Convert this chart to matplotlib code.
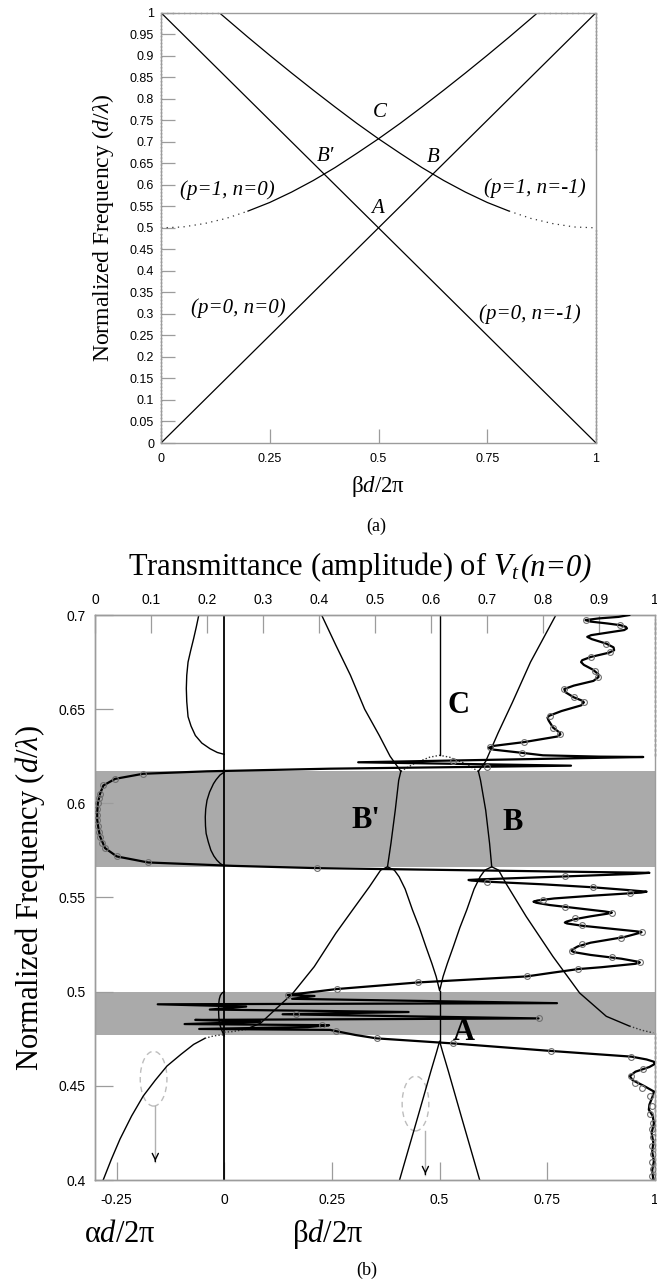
import matplotlib
matplotlib.use("Agg")
import matplotlib.pyplot as plt
from matplotlib.patches import Ellipse

SERIF = ["Liberation Serif", "DejaVu Serif"]
SANS = ["Liberation Sans", "DejaVu Sans"]
plt.rcParams["font.family"] = SANS
plt.rcParams["mathtext.fontset"] = "custom"
plt.rcParams["mathtext.rm"] = "Liberation Serif"
plt.rcParams["mathtext.it"] = "Liberation Serif:italic"
plt.rcParams["mathtext.bf"] = "Liberation Serif:bold"

# ---------------------------------------------------------------- panel (a) data
a_xtick_labels = ["0", "0.25", "0.5", "0.75", "1"]
a_ytick_labels = ["0", "0.05", "0.1", "0.15", "0.2", "0.25", "0.3", "0.35", "0.4",
                  "0.45", "0.5", "0.55", "0.6", "0.65", "0.7", "0.75", "0.8",
                  "0.85", "0.9", "0.95", "1"]

# light-line branches (p=0)
beta_p0 = [0.0, 1.0]
freq_p0_n0 = [0.0, 1.0]
freq_p0_nm1 = [1.0, 0.0]

# first higher-order branches (p=1)
beta_p1_n0 = [0.0, 0.05, 0.10, 0.15, 0.20, 0.25, 0.30, 0.35, 0.40, 0.45, 0.50,
              0.55, 0.60, 0.65, 0.70, 0.75, 0.80, 0.866]
freq_p1_n0 = [0.500, 0.502, 0.510, 0.522, 0.539, 0.559, 0.583, 0.610, 0.640, 0.673,
              0.707, 0.743, 0.781, 0.820, 0.860, 0.901, 0.943, 1.000]
beta_p1_nm1 = [0.134, 0.20, 0.25, 0.30, 0.35, 0.40, 0.45, 0.50, 0.55, 0.60, 0.65,
               0.70, 0.75, 0.80, 0.85, 0.90, 0.95, 1.00]
freq_p1_nm1 = [1.000, 0.943, 0.901, 0.860, 0.820, 0.781, 0.743, 0.707, 0.673, 0.640,
               0.610, 0.583, 0.559, 0.539, 0.522, 0.510, 0.502, 0.500]

# ---------------------------------------------------------------- panel (b) data
b_xtick_labels = ["-0.25", "0", "0.25", "0.5", "0.75", "1"]
b_ytick_labels = ["0.4", "0.45", "0.5", "0.55", "0.6", "0.65", "0.7"]
t_xtick_labels = ["0", "0.1", "0.2", "0.3", "0.4", "0.5", "0.6", "0.7", "0.8", "0.9", "1"]

# stop bands (normalized frequency)
band_upper = [0.566, 0.617]
band_lower = [0.477, 0.500]

# attenuation (alpha) branches, plotted left of zero
alpha_top = [-0.059, -0.065, -0.071, -0.078, -0.084, -0.087, -0.088, -0.087, -0.084,
             -0.077, -0.067, -0.052, -0.033, -0.016, 0.0]
alpha_top_f = [0.700, 0.6935, 0.6875, 0.681, 0.675, 0.668, 0.661, 0.654, 0.646,
               0.641, 0.636, 0.632, 0.629, 0.627, 0.626]
alpha_gap1 = [0.0, -0.010, -0.019, -0.025, -0.034, -0.040, -0.043, -0.044, -0.0435,
              -0.042, -0.037, -0.031, -0.024, -0.017, -0.009, 0.0]
alpha_gap1_f = [0.6166, 0.6150, 0.6125, 0.6104, 0.6060, 0.6016, 0.5970, 0.5928,
                0.5880, 0.5840, 0.5795, 0.5751, 0.5720, 0.5698, 0.5680, 0.5667]
alpha_gap2 = [0.0, -0.005, -0.009, -0.0115, -0.0125, -0.013, -0.013, -0.0125,
              -0.0115, -0.0095, -0.0065, -0.003, 0.0]
alpha_gap2_f = [0.500, 0.4993, 0.498, 0.496, 0.494, 0.4915, 0.489, 0.4865, 0.484,
                0.482, 0.480, 0.478, 0.4765]
alpha_low = [-0.281, -0.262, -0.242, -0.215, -0.188, -0.160, -0.133, -0.100, -0.071,
             -0.045, -0.025, -0.012, 0.0]
alpha_low_f = [0.400, 0.411, 0.4217, 0.434, 0.4446, 0.453, 0.4605, 0.4668, 0.4720,
               0.4752, 0.4765, 0.4769, 0.4771]

# propagation (beta) branches
beta_up_left = [0.226, 0.259, 0.293, 0.326, 0.360, 0.385, 0.410]
beta_up_left_f = [0.700, 0.684, 0.668, 0.650, 0.636, 0.625, 0.617]
beta_up_right = [0.590, 0.607, 0.636, 0.669, 0.711, 0.770]
beta_up_right_f = [0.617, 0.6223, 0.6375, 0.6536, 0.675, 0.700]
beta_c_arc = [0.410, 0.443, 0.477, 0.500, 0.523, 0.557, 0.590]
beta_c_arc_f = [0.617, 0.6214, 0.6245, 0.6255, 0.6245, 0.6214, 0.617]
beta_c_line_f = [0.6255, 0.700]
beta_bp = [0.379, 0.387, 0.397, 0.405, 0.410]
beta_bp_f = [0.5663, 0.5787, 0.5963, 0.6122, 0.617]
beta_b = [0.621, 0.616, 0.607, 0.595, 0.590]
beta_b_f = [0.5663, 0.5787, 0.5963, 0.6122, 0.617]
beta_mid = [0.0, 0.02, 0.05, 0.084, 0.109, 0.159, 0.209, 0.259, 0.298, 0.337, 0.363,
            0.379, 0.395, 0.406, 0.420, 0.437, 0.453, 0.468, 0.482, 0.492, 0.500,
            0.508, 0.518, 0.532, 0.547, 0.563, 0.580, 0.594, 0.605, 0.621, 0.637,
            0.654, 0.701, 0.763, 0.825, 0.887, 0.941, 0.970, 0.996]
beta_mid_f = [0.4785, 0.4788, 0.4800, 0.4832, 0.4885, 0.4991, 0.5133, 0.5310, 0.5434,
              0.5557, 0.5645, 0.5663, 0.5645, 0.5610, 0.5545, 0.5434, 0.5340, 0.5240,
              0.5150, 0.5080, 0.5005, 0.5080, 0.5150, 0.5240, 0.5340, 0.5434, 0.5545,
              0.5610, 0.5645, 0.5663, 0.5645, 0.5575, 0.5399, 0.5187, 0.4993, 0.4869,
              0.4817, 0.4795, 0.4781]
beta_a = [0.407, 0.450, 0.480, 0.493, 0.500, 0.507, 0.520, 0.550, 0.593]
beta_a_f = [0.400, 0.434, 0.458, 0.468, 0.4737, 0.468, 0.458, 0.434, 0.400]
beta_a_line_f = [0.4737, 0.5005]

# transmittance |Vt(n=0)| versus frequency (top axis)
trans_f = [0.7000, 0.6990, 0.6982, 0.6973, 0.6965, 0.6955, 0.6946, 0.6937, 0.6929,
           0.6920, 0.6906, 0.6893, 0.6884, 0.6872, 0.6848, 0.6828, 0.6813, 0.6800,
           0.6777, 0.6760, 0.6750, 0.6735, 0.6710, 0.6685, 0.6670, 0.6650, 0.6625,
           0.6607, 0.6590, 0.6563, 0.6545, 0.6536, 0.6520, 0.6490, 0.6465, 0.6455,
           0.6440, 0.6402, 0.6375, 0.6366, 0.6355, 0.6325, 0.6305, 0.6295, 0.6285,
           0.6268, 0.6255, 0.6248, 0.6246, 0.6218, 0.6200, 0.6184, 0.6170, 0.6157,
           0.6130, 0.6095, 0.6051, 0.6000, 0.5950, 0.5912, 0.5870, 0.5824, 0.5762,
           0.5718, 0.5686, 0.5668, 0.5656, 0.5631, 0.5625, 0.5612, 0.5600, 0.5596,
           0.5593, 0.5590, 0.5584, 0.5570, 0.5554, 0.5540, 0.5531, 0.5526, 0.5510,
           0.5495, 0.5484, 0.5478, 0.5472, 0.5460, 0.5440, 0.5426, 0.5420, 0.5414,
           0.5400, 0.5385, 0.5372, 0.5367, 0.5362, 0.5350, 0.5330, 0.5320, 0.5316,
           0.5310, 0.5290, 0.5260, 0.5240, 0.5225, 0.5217, 0.5210, 0.5195, 0.5175,
           0.5160, 0.5155, 0.5148, 0.5130, 0.5120, 0.5100, 0.5081, 0.5049, 0.5014,
           0.4982, 0.4977, 0.4962, 0.4939, 0.4933, 0.4921, 0.4905, 0.4892, 0.4880,
           0.4858, 0.4850, 0.4840, 0.4828, 0.4822, 0.4812, 0.4802, 0.4797, 0.4790,
           0.4770, 0.4752, 0.4725, 0.4685, 0.4655, 0.4640, 0.4628, 0.4615, 0.4600,
           0.4575, 0.4552, 0.4530, 0.4500, 0.4470, 0.4446, 0.4400, 0.4373, 0.4340,
           0.4300, 0.4250, 0.4200, 0.4150, 0.4100, 0.4050, 0.4000]
trans_amp = [0.954, 0.935, 0.900, 0.876, 0.885, 0.915, 0.938, 0.948, 0.950,
             0.945, 0.915, 0.886, 0.879, 0.887, 0.913, 0.926, 0.927, 0.918,
             0.885, 0.870, 0.868, 0.873, 0.889, 0.899, 0.899, 0.890, 0.855,
             0.838, 0.840, 0.855, 0.870, 0.873, 0.868, 0.833, 0.811, 0.808,
             0.810, 0.818, 0.830, 0.831, 0.826, 0.766, 0.712, 0.703, 0.712,
             0.763, 0.800, 0.900, 0.979, 0.470, 0.850, 0.420, 0.200, 0.086,
             0.036, 0.015, 0.009, 0.005, 0.004, 0.004, 0.006, 0.009, 0.018,
             0.039, 0.095, 0.247, 0.396, 0.990, 0.960, 0.840, 0.720, 0.685,
             0.667, 0.672, 0.700, 0.800, 0.890, 0.950, 0.985, 0.975, 0.890,
             0.820, 0.790, 0.783, 0.788, 0.812, 0.870, 0.910, 0.923, 0.915,
             0.885, 0.857, 0.842, 0.839, 0.843, 0.870, 0.935, 0.968, 0.976,
             0.970, 0.945, 0.885, 0.862, 0.853, 0.851, 0.855, 0.885, 0.940,
             0.968, 0.973, 0.965, 0.905, 0.863, 0.815, 0.771, 0.577, 0.432,
             0.344, 0.392, 0.352, 0.825, 0.112, 0.270, 0.205, 0.560, 0.335,
             0.792, 0.179, 0.295, 0.160, 0.418, 0.380, 0.186, 0.420, 0.431,
             0.465, 0.503, 0.640, 0.815, 0.958, 0.985, 0.998, 0.999, 0.990,
             0.965, 0.955, 0.960, 0.980, 0.998, 0.996, 0.990, 0.989, 0.996,
             0.998, 0.994, 0.997, 0.995, 0.998, 0.995, 0.997]

# computed sample points on the transmittance curve
mark_f = [0.6973, 0.6946, 0.6848, 0.6804, 0.6777, 0.6705, 0.6670, 0.6607, 0.6563,
          0.6536, 0.6464, 0.6402, 0.6366, 0.6325, 0.6300, 0.6268, 0.6227, 0.6192,
          0.6157, 0.6130, 0.6095, 0.6051, 0.6030, 0.6000, 0.5970, 0.5940, 0.5910,
          0.5880, 0.5850, 0.5820, 0.5790, 0.5762, 0.5718, 0.5686, 0.5656,
          0.5612, 0.5584, 0.5554, 0.5522, 0.5487, 0.5451, 0.5420, 0.5390, 0.5354,
          0.5316, 0.5284, 0.5252, 0.5217, 0.5183, 0.5155, 0.5120, 0.5081, 0.5049,
          0.5014, 0.4982, 0.4880, 0.4858, 0.4825, 0.4790, 0.4752, 0.4725, 0.4685,
          0.4655, 0.4587, 0.4552, 0.4517, 0.4490, 0.4446, 0.4393, 0.4349, 0.4305,
          0.4270, 0.4226, 0.4182, 0.4138, 0.4094, 0.4058, 0.4023]
mark_amp = [0.876, 0.938, 0.913, 0.920, 0.885, 0.893, 0.899, 0.838, 0.855,
            0.873, 0.812, 0.818, 0.831, 0.766, 0.706, 0.763, 0.640, 0.700,
            0.086, 0.036, 0.015, 0.009, 0.007, 0.005, 0.004, 0.004, 0.004,
            0.005, 0.007, 0.009, 0.013, 0.018, 0.039, 0.095, 0.396,
            0.840, 0.700, 0.890, 0.955, 0.800, 0.840, 0.923, 0.857, 0.870,
            0.976, 0.940, 0.870, 0.851, 0.923, 0.973, 0.863, 0.771, 0.577,
            0.432, 0.344, 0.359, 0.792, 0.405, 0.431, 0.503, 0.640, 0.815,
            0.958, 0.979, 0.958, 0.964, 0.976, 0.991, 0.994, 0.991, 0.997,
            0.994, 0.997, 0.994, 0.997, 0.994, 0.997, 0.994]

# ---------------------------------------------------------------- figure
W, H = 657, 1283
fig = plt.figure(figsize=(W / 100, H / 100), dpi=100)


def box(left, top, right, bottom):
    return [left / W, 1 - bottom / H, (right - left) / W, (bottom - top) / H]


GRAY = "#9c9c9c"
INK = "black"

# ================================================================ panel (a)
axA = fig.add_axes(box(161, 12.7, 596, 443))
axA.set_xlim(0, 1)
axA.set_ylim(0, 1)
for sp in axA.spines.values():
    sp.set_color(GRAY)
    sp.set_linewidth(1.0)

axA.set_xticks([float(s) for s in a_xtick_labels])
axA.set_xticklabels(a_xtick_labels)
axA.set_yticks([float(s) for s in a_ytick_labels])
axA.set_yticklabels(a_ytick_labels)
axA.tick_params(direction="in", length=10, width=0.9, color=GRAY,
                labelsize=9, pad=5)
axA.tick_params(axis="x", pad=7)

thin = dict(color=INK, lw=0.9)
dots = dict(color="#333333", lw=0.9, linestyle=(0, (1, 3.5)))
axA.plot(beta_p0, freq_p0_n0, **thin)
axA.plot(beta_p0, freq_p0_nm1, **thin)
axA.plot(beta_p1_n0[4:], freq_p1_n0[4:], **thin)
axA.plot(beta_p1_n0[:5], freq_p1_n0[:5], **dots)
axA.plot(beta_p1_nm1[:-4], freq_p1_nm1[:-4], **thin)
axA.plot(beta_p1_nm1[-5:], freq_p1_nm1[-5:], **dots)
# grazing points along the zone boundaries
edge = dict(color="#444444", lw=1.0, linestyle=(0, (1, 1.5)), clip_on=False)
axA.plot([0, 0], [0, 1], **edge)
axA.plot([1, 1], [0, 0.5], **edge)
axA.plot([1, 1], [0.68, 1], **edge)
axA.plot([0, beta_p1_nm1[0]], [1, 1], **dots, clip_on=False)
axA.plot([beta_p1_n0[-1], 1], [1, 1], **dots, clip_on=False)

lab_it = dict(fontfamily=SERIF, fontstyle="italic", fontsize=15,
              ha="center", va="center")
axA.text(0.152, 0.588, "(p=1, n=0)", **lab_it)
axA.text(0.178, 0.313, "(p=0, n=0)", **lab_it)
axA.text(0.860, 0.592, "(p=1, n=-1)", **lab_it)
axA.text(0.848, 0.300, "(p=0, n=-1)", **lab_it)
axA.text(0.503, 0.769, "C", **lab_it)
axA.text(0.379, 0.665, "B\u2032", **lab_it)
axA.text(0.625, 0.664, "B", **lab_it)
axA.text(0.497, 0.546, "A", **lab_it)

fig.text(103 / W, 1 - 228 / H, r"Normalized Frequency ($d/\lambda$)",
         rotation=90, ha="center", va="center", fontfamily=SERIF, fontsize=17)
fig.text(378 / W, 1 - 492 / H, r"β$d$/2π", ha="center", va="baseline",
         fontfamily=SERIF, fontsize=16.5)
fig.text(376 / W, 1 - 531 / H, "(a)", ha="center", va="baseline",
         fontfamily=SERIF, fontsize=13)

# ================================================================ panel (b)
axB = fig.add_axes(box(95, 615, 655, 1180))
axB.set_xlim(-0.3, 1.0)
axB.set_ylim(0.4, 0.7)
axB.axhspan(band_upper[0], band_upper[1], color="#aaaaaa", lw=0, zorder=0)
axB.axhspan(band_lower[0], band_lower[1], color="#aaaaaa", lw=0, zorder=0)

axB.set_xticks([float(s) for s in b_xtick_labels])
axB.set_xticklabels(b_xtick_labels)
axB.set_yticks([float(s) for s in b_ytick_labels])
axB.set_yticklabels(b_ytick_labels)
axB.tick_params(direction="in", length=13, width=0.9, color=GRAY,
                labelsize=10, top=False, right=False)
axB.tick_params(axis="y", pad=7)
axB.tick_params(axis="x", pad=9)

lw_d = 1.0
disp = dict(color=INK, lw=lw_d, solid_joinstyle="round")
disp_dot = dict(color="#333333", lw=lw_d, linestyle=(0, (1, 1.5)))

axB.plot([0, 0], [0.4, 0.7], color=INK, lw=1.3)
axB.plot(alpha_top, alpha_top_f, **disp)
axB.plot(alpha_gap1, alpha_gap1_f, **disp)
axB.plot(alpha_gap2, alpha_gap2_f, **disp)
axB.plot(alpha_low[:-3], alpha_low_f[:-3], **disp)
axB.plot(alpha_low[-4:], alpha_low_f[-4:], **disp_dot)

axB.plot(beta_up_left, beta_up_left_f, **disp)
axB.plot(beta_up_right, beta_up_right_f, **disp)
axB.plot(beta_c_arc, beta_c_arc_f, **disp_dot)
axB.plot([0.5, 0.5], beta_c_line_f, **disp)
axB.plot(beta_bp, beta_bp_f, **disp)
axB.plot(beta_b, beta_b_f, **disp)
axB.plot(beta_mid[2:-2], beta_mid_f[2:-2], **disp)
axB.plot(beta_mid[:3], beta_mid_f[:3], **disp_dot)
axB.plot(beta_mid[-3:], beta_mid_f[-3:], **disp_dot)
axB.plot(beta_a, beta_a_f, **disp)
axB.plot([0.5, 0.5], beta_a_line_f, **disp)

for sp in axB.spines.values():
    sp.set_color(GRAY)
    sp.set_linewidth(1.0)
edgeB = dict(color="#444444", lw=1.0, linestyle=(0, (2, 1.5)), clip_on=False)
axB.plot([1.0, 1.0], [0.625, 0.698], **edgeB)
axB.plot([1.0, 1.0], [0.400, 0.478], **edgeB)

# dashed markers highlighting the regions read on the two lower axes
ell = dict(fill=False, ec="#bdbdbd", lw=1.0, linestyle=(0, (4, 3)))
axB.add_patch(Ellipse((-0.164, 0.4538), 0.062, 0.0291, **ell))
axB.add_patch(Ellipse((0.444, 0.4406), 0.062, 0.0291, **ell))
for x0, ftop, ftip in [(-0.160, 0.4393, 0.4085), (0.467, 0.4261, 0.4016)]:
    axB.plot([x0, x0], [ftop, ftip + 0.001], color="#b0b0b0", lw=1.0)
    axB.annotate("", xy=(x0, ftip), xytext=(x0, ftip + 0.003),
                 arrowprops=dict(arrowstyle="->,head_length=0.45,head_width=0.22",
                                 color=INK, lw=1.0))

lab_bf = dict(fontfamily=SERIF, fontweight="bold", fontsize=22,
              ha="center", va="center")
axB.text(0.544, 0.652, "C", **lab_bf)
axB.text(0.329, 0.591, "B'", **lab_bf)
axB.text(0.670, 0.590, "B", **lab_bf)
axB.text(0.556, 0.4783, "A", **lab_bf)

# transmittance on the top axis
axT = axB.twiny()
axT.set_xlim(0, 1)
axT.set_xticks([float(s) for s in t_xtick_labels])
axT.set_xticklabels(t_xtick_labels)
axT.tick_params(axis="x", direction="in", length=13, width=0.9, color=GRAY,
                labelsize=10, pad=6)
for sp in axT.spines.values():
    sp.set_color(GRAY)
    sp.set_linewidth(1.0)
axT.spines["right"].set_visible(False)
axT.plot(trans_amp, trans_f, color=INK, lw=1.6, solid_joinstyle="round", zorder=3)
axT.plot(mark_amp, mark_f, linestyle="none", marker="o", ms=4.2, mfc="none",
         mec="#6f6f6f", mew=0.8, zorder=4)

# title: upright words, italic V_t(n=0)
renderer = fig.canvas.get_renderer()
t_main = fig.text(0, 1 - 575 / H, r"Transmittance (amplitude) of $V_{t}$",
                  ha="left", va="baseline", fontfamily=SERIF, fontsize=22)
t_tail = fig.text(0, 1 - 575 / H, "(n=0)", ha="left", va="baseline",
                  fontfamily=SERIF, fontstyle="italic", fontsize=22)
w_main = t_main.get_window_extent(renderer).width
w_tail = t_tail.get_window_extent(renderer).width
x_start = 360 - (w_main + w_tail) / 2
t_main.set_x(x_start / W)
t_tail.set_x((x_start + w_main + 1) / W)

fig.text(30 / W, 1 - 898 / H, r"Normalized Frequency ($d/\lambda$)",
         rotation=90, ha="center", va="center", fontfamily=SERIF, fontsize=22)
fig.text(120 / W, 1 - 1242 / H, r"α$d$/2π", ha="center", va="baseline",
         fontfamily=SERIF, fontsize=22)
fig.text(328 / W, 1 - 1242 / H, r"β$d$/2π", ha="center", va="baseline",
         fontfamily=SERIF, fontsize=22)
fig.text(367 / W, 1 - 1275 / H, "(b)", ha="center", va="baseline",
         fontfamily=SERIF, fontsize=13)

fig.savefig("out.png", dpi=100)
